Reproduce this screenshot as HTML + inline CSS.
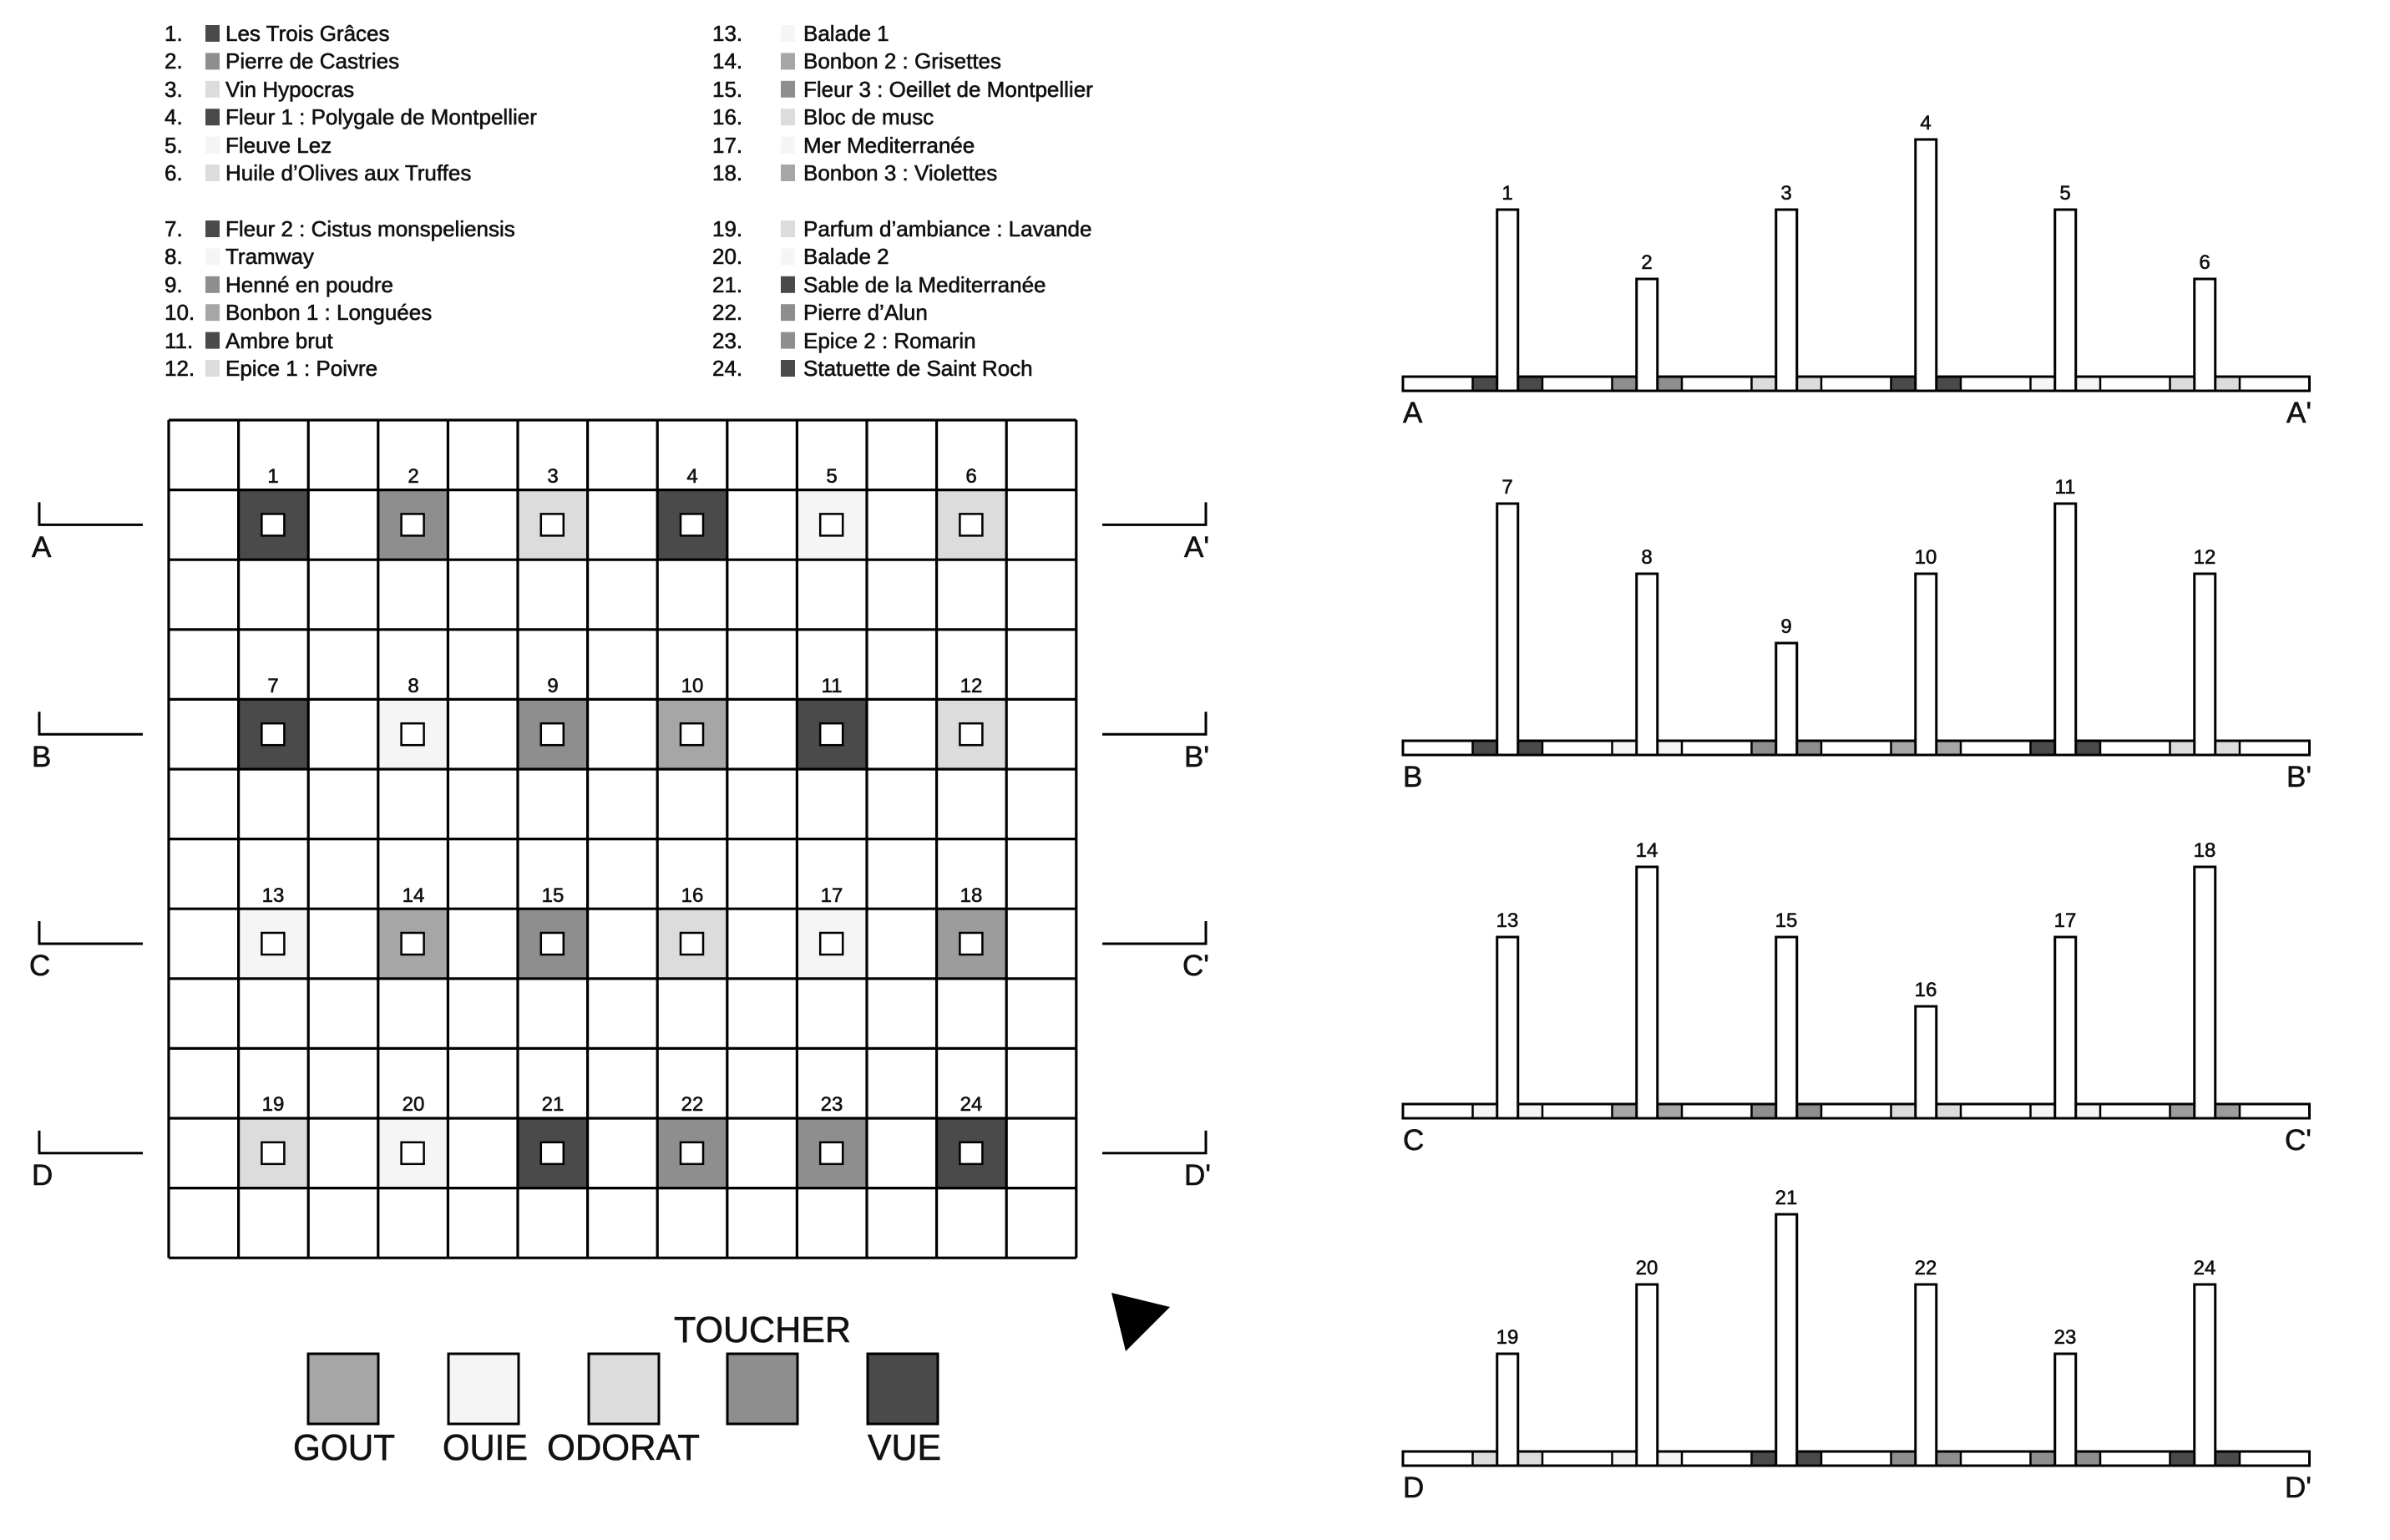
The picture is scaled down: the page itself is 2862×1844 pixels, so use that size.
<!DOCTYPE html>
<html><head><meta charset="utf-8"><style>
html,body{margin:0;padding:0;background:#fff;}
svg{display:block;}
text{font-family:"Liberation Sans",Arial,sans-serif;fill:#111;stroke:#111;stroke-width:0.6px;}
.lg{font-size:26px;}
.n{font-size:24px;text-anchor:middle;}
.L{font-size:35px;}
.big{font-size:44px;stroke-width:1.4px;}
</style></head><body>
<svg id="s" width="2862" height="1844" viewBox="0 0 2862 1844" xmlns="http://www.w3.org/2000/svg">
<g id="geo"></g>
<g class="lg">
<text x="197" y="49">1.</text><text x="270" y="49">Les Trois Grâces</text>
<text x="197" y="82">2.</text><text x="270" y="82">Pierre de Castries</text>
<text x="197" y="116">3.</text><text x="270" y="116">Vin Hypocras</text>
<text x="197" y="149">4.</text><text x="270" y="149">Fleur 1 : Polygale de Montpellier</text>
<text x="197" y="183">5.</text><text x="270" y="183">Fleuve Lez</text>
<text x="197" y="216">6.</text><text x="270" y="216">Huile d’Olives aux Truffes</text>
<text x="197" y="283">7.</text><text x="270" y="283">Fleur 2 : Cistus monspeliensis</text>
<text x="197" y="316">8.</text><text x="270" y="316">Tramway</text>
<text x="197" y="350">9.</text><text x="270" y="350">Henné en poudre</text>
<text x="197" y="383">10.</text><text x="270" y="383">Bonbon 1 : Longuées</text>
<text x="197" y="417">11.</text><text x="270" y="417">Ambre brut</text>
<text x="197" y="450">12.</text><text x="270" y="450">Epice 1 : Poivre</text>
<text x="853" y="49">13.</text><text x="962" y="49">Balade 1</text>
<text x="853" y="82">14.</text><text x="962" y="82">Bonbon 2 : Grisettes</text>
<text x="853" y="116">15.</text><text x="962" y="116">Fleur 3 : Oeillet de Montpellier</text>
<text x="853" y="149">16.</text><text x="962" y="149">Bloc de musc</text>
<text x="853" y="183">17.</text><text x="962" y="183">Mer Mediterranée</text>
<text x="853" y="216">18.</text><text x="962" y="216">Bonbon 3 : Violettes</text>
<text x="853" y="283">19.</text><text x="962" y="283">Parfum d’ambiance : Lavande</text>
<text x="853" y="316">20.</text><text x="962" y="316">Balade 2</text>
<text x="853" y="350">21.</text><text x="962" y="350">Sable de la Mediterranée</text>
<text x="853" y="383">22.</text><text x="962" y="383">Pierre d’Alun</text>
<text x="853" y="417">23.</text><text x="962" y="417">Epice 2 : Romarin</text>
<text x="853" y="450">24.</text><text x="962" y="450">Statuette de Saint Roch</text>
</g>
<g class="n">
<text x="327" y="578">1</text><text x="495" y="578">2</text><text x="662" y="578">3</text><text x="829" y="578">4</text><text x="996" y="578">5</text><text x="1163" y="578">6</text>
<text x="327" y="829">7</text><text x="495" y="829">8</text><text x="662" y="829">9</text><text x="829" y="829">10</text><text x="996" y="829">11</text><text x="1163" y="829">12</text>
<text x="327" y="1080">13</text><text x="495" y="1080">14</text><text x="662" y="1080">15</text><text x="829" y="1080">16</text><text x="996" y="1080">17</text><text x="1163" y="1080">18</text>
<text x="327" y="1330">19</text><text x="495" y="1330">20</text><text x="662" y="1330">21</text><text x="829" y="1330">22</text><text x="996" y="1330">23</text><text x="1163" y="1330">24</text>
</g>
<g class="L">
<text x="38" y="667">A</text><text x="1418" y="667">A'</text>
<text x="38" y="918">B</text><text x="1418" y="918">B'</text>
<text x="35" y="1168">C</text><text x="1416" y="1168">C'</text>
<text x="38" y="1419">D</text><text x="1418" y="1419">D'</text>
<text x="1680" y="506">A</text><text x="2768" y="506" text-anchor="end">A'</text>
<text x="1680" y="942">B</text><text x="2768" y="942" text-anchor="end">B'</text>
<text x="1680" y="1377">C</text><text x="2768" y="1377" text-anchor="end">C'</text>
<text x="1680" y="1793">D</text><text x="2768" y="1793" text-anchor="end">D'</text>
</g>
<g class="n">
<text x="1805" y="239">1</text><text x="1972" y="322">2</text><text x="2139" y="239">3</text><text x="2306" y="155">4</text><text x="2473" y="239">5</text><text x="2640" y="322">6</text>
<text x="1805" y="591">7</text><text x="1972" y="675">8</text><text x="2139" y="758">9</text><text x="2306" y="675">10</text><text x="2473" y="591">11</text><text x="2640" y="675">12</text>
<text x="1805" y="1110">13</text><text x="1972" y="1026">14</text><text x="2139" y="1110">15</text><text x="2306" y="1193">16</text><text x="2473" y="1110">17</text><text x="2640" y="1026">18</text>
<text x="1805" y="1609">19</text><text x="1972" y="1526">20</text><text x="2139" y="1442">21</text><text x="2306" y="1526">22</text><text x="2473" y="1609">23</text><text x="2640" y="1526">24</text>
</g>
<g class="big">
<text x="807" y="1607" textLength="212" lengthAdjust="spacingAndGlyphs">TOUCHER</text>
<text x="351" y="1748" textLength="122" lengthAdjust="spacingAndGlyphs">GOUT</text>
<text x="530" y="1748" textLength="102" lengthAdjust="spacingAndGlyphs">OUIE</text>
<text x="655" y="1748" textLength="183" lengthAdjust="spacingAndGlyphs">ODORAT</text>
<text x="1039" y="1748" textLength="88" lengthAdjust="spacingAndGlyphs">VUE</text>
</g>
<polygon points="1331,1548 1401,1565 1348,1618" fill="#000"/>
</svg>
<script>
(function(){
var NS="http://www.w3.org/2000/svg",g=document.getElementById("geo");
function el(t,a){var e=document.createElementNS(NS,t);for(var k in a)e.setAttribute(k,a[k]);g.appendChild(e);return e;}
var D="#4a4a4a",M="#8e8e8e",G="#a6a6a6",O="#dcdcdc",W="#f5f5f5",G2="#9c9c9c";
var cols=[D,M,O,D,W,O, D,W,M,G,D,O, W,G,M,O,W,G2, O,W,D,M,M,D];
var lcols=[D,M,O,D,W,O, D,W,M,G,D,O, W,G,M,O,W,G, O,W,D,M,M,D];
for(var i=0;i<24;i++){
  var r=i%12, y=(r<6?40+33.4*r:274+33.4*(r-6));
  var x=i<12?246:935;
  el("rect",{x:x,y:y-10,width:17,height:20,fill:lcols[i]});
}
var gx=202,gy=503,cw=83.6,ch=83.6;
for(var k=0;k<24;k++){
  var row=[1,4,7,10][Math.floor(k/6)], col=1+2*(k%6);
  var x0=gx+col*cw,y0=gy+row*ch;
  el("rect",{x:x0,y:y0,width:cw,height:ch,fill:cols[k]});
  el("rect",{x:x0+cw/2-14,y:y0+ch/2-13,width:27,height:26,fill:"#fff",stroke:"#000","stroke-width":2.5});
}
var p="";
for(var i=0;i<=13;i++){var x=gx+i*cw;p+="M"+x+" "+gy+"V"+(gy+12*ch);}
for(var j=0;j<=12;j++){var y=gy+j*ch;p+="M"+gx+" "+y+"H"+(gx+13*cw);}
el("path",{d:p,stroke:"#000","stroke-width":3.2,fill:"none"});
[628.4,879.2,1130,1380.8].forEach(function(c){
  el("path",{d:"M47 "+(c-27)+"V"+c+"H171",stroke:"#000","stroke-width":3,fill:"none"});
  el("path",{d:"M1320 "+c+"H1444V"+(c-27),stroke:"#000","stroke-width":3,fill:"none"});
});
var lv=[[2,1,2,3,2,1],[3,2,1,2,3,2],[2,3,2,1,2,3],[1,2,3,2,1,2]];
var H=[0,117,200,284];
var bases=[451,887,1322,1738];
var sx=1680,scw=83.5;
for(var c=0;c<4;c++){
  var base=bases[c];
  el("rect",{x:sx,y:base,width:13*scw,height:17,fill:"#fff",stroke:"#000","stroke-width":3});
  for(var b=0;b<6;b++){
    var col=1+2*b,x0=sx+col*scw;
    el("rect",{x:x0,y:base+1.5,width:scw,height:14,fill:cols[c*6+b]});
  }
  var q="";
  for(var i=1;i<13;i++){var x=sx+i*scw;q+="M"+x+" "+base+"V"+(base+17);}
  el("path",{d:q,stroke:"#000","stroke-width":2.5,fill:"none"});
  for(var b=0;b<6;b++){
    var cx=sx+(1.5+2*b)*scw,h=H[lv[c][b]];
    el("rect",{x:cx-12.5,y:base-h,width:25,height:h+17,fill:"#fff",stroke:"#000","stroke-width":3});
  }
}
[[369,G],[537,W],[705,O],[871,M],[1039,D]].forEach(function(s){
  el("rect",{x:s[0],y:1621,width:84,height:84,fill:s[1],stroke:"#000","stroke-width":3});
});
})();
</script>
</body></html>
